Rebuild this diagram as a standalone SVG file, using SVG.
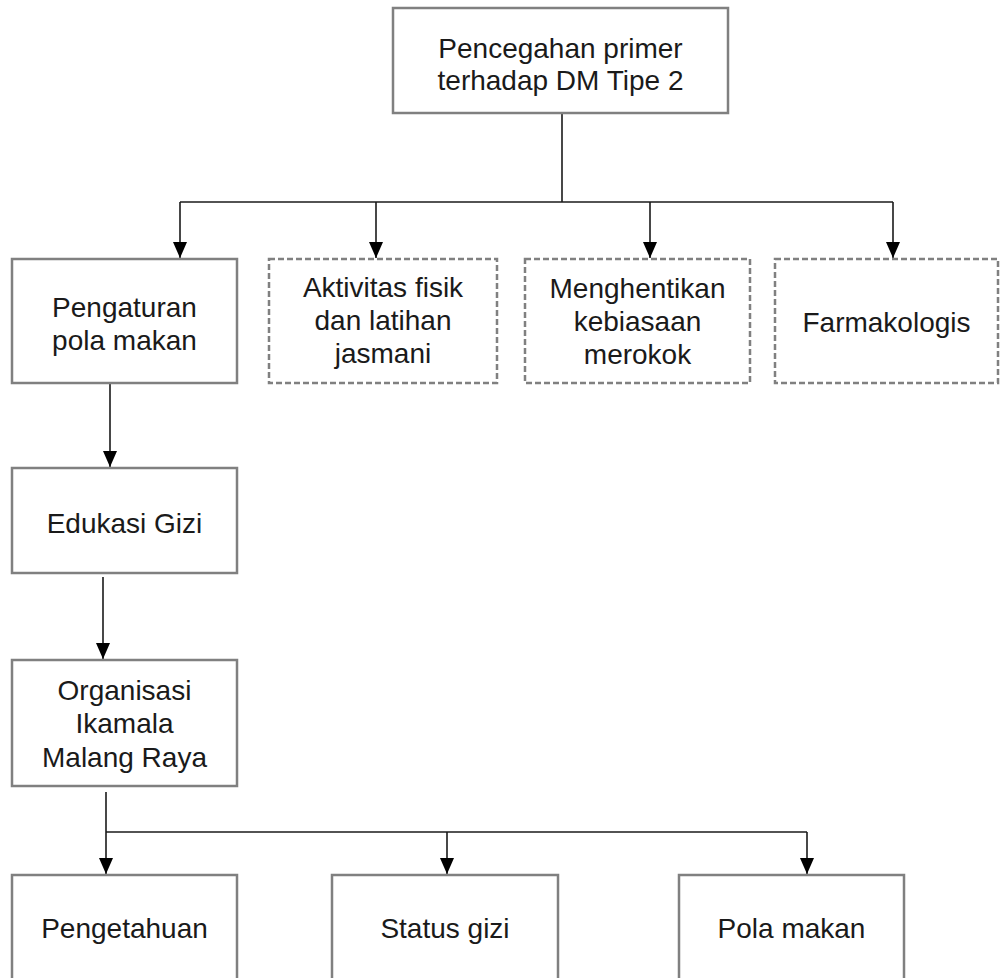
<svg xmlns="http://www.w3.org/2000/svg" width="1000" height="978" viewBox="0 0 1000 978">
<style>
.box{fill:#fff;stroke:#808080;stroke-width:2.5}
.dbox{fill:#fff;stroke:#808080;stroke-width:2.5;stroke-dasharray:6 3}
.t{font-family:"Liberation Sans",Arial,sans-serif;font-size:28px;fill:#1a1a1a;text-anchor:middle}
.c{fill:none;stroke:#1a1a1a;stroke-width:1.6}
</style>
<defs>
<marker id="arr" markerUnits="userSpaceOnUse" markerWidth="16" markerHeight="14" refX="16" refY="7" orient="auto" viewBox="0 0 16 14">
<path d="M0,0 L16,7 L0,14 z" fill="#000"/>
</marker>
</defs>
<rect width="1000" height="978" fill="#fff"/>
<g id="connectors">
<path class="c" d="M562,113 V202"/>
<path class="c" d="M180,202 H893"/>
<path class="c" d="M180,202 V258" marker-end="url(#arr)"/>
<path class="c" d="M376,202 V258" marker-end="url(#arr)"/>
<path class="c" d="M650,202 V258" marker-end="url(#arr)"/>
<path class="c" d="M893,202 V258" marker-end="url(#arr)"/>
<path class="c" d="M110,384 V467" marker-end="url(#arr)"/>
<path class="c" d="M103,577 V659" marker-end="url(#arr)"/>
<path class="c" d="M106,792 V874" marker-end="url(#arr)"/>
<path class="c" d="M106,832 H807"/>
<path class="c" d="M447,832 V874" marker-end="url(#arr)"/>
<path class="c" d="M807,832 V874" marker-end="url(#arr)"/>
</g>
<g id="n-top">
<rect class="box" x="393" y="8" width="335" height="105"/>
<text class="t" x="560.5" y="58">Pencegahan primer</text>
<text class="t" x="560.5" y="90">terhadap DM Tipe 2</text>
</g>
<g id="n-pengaturan">
<rect class="box" x="12" y="259" width="225" height="124"/>
<text class="t" x="124.5" y="317">Pengaturan</text>
<text class="t" x="124.5" y="350">pola makan</text>
</g>
<g id="n-aktivitas">
<rect class="dbox" x="269" y="259" width="228" height="124"/>
<text class="t" x="383" y="297">Aktivitas fisik</text>
<text class="t" x="383" y="330">dan latihan</text>
<text class="t" x="383" y="363">jasmani</text>
</g>
<g id="n-merokok">
<rect class="dbox" x="525" y="259" width="225" height="124"/>
<text class="t" x="637.5" y="298">Menghentikan</text>
<text class="t" x="637.5" y="331">kebiasaan</text>
<text class="t" x="637.5" y="364">merokok</text>
</g>
<g id="n-farmakologis">
<rect class="dbox" x="775" y="259" width="223" height="124"/>
<text class="t" x="886.5" y="332">Farmakologis</text>
</g>
<g id="n-edukasi">
<rect class="box" x="12" y="468" width="225" height="105"/>
<text class="t" x="124.5" y="533">Edukasi Gizi</text>
</g>
<g id="n-organisasi">
<rect class="box" x="12" y="660" width="225" height="126"/>
<text class="t" x="124.5" y="700">Organisasi</text>
<text class="t" x="124.5" y="733">Ikamala</text>
<text class="t" x="124.5" y="767">Malang Raya</text>
</g>
<g id="n-pengetahuan">
<rect class="box" x="12" y="875" width="225" height="120"/>
<text class="t" x="124.5" y="938">Pengetahuan</text>
</g>
<g id="n-status">
<rect class="box" x="332" y="875" width="226" height="120"/>
<text class="t" x="445" y="938">Status gizi</text>
</g>
<g id="n-pola">
<rect class="box" x="679" y="875" width="225" height="120"/>
<text class="t" x="791.5" y="938">Pola makan</text>
</g>
</svg>
